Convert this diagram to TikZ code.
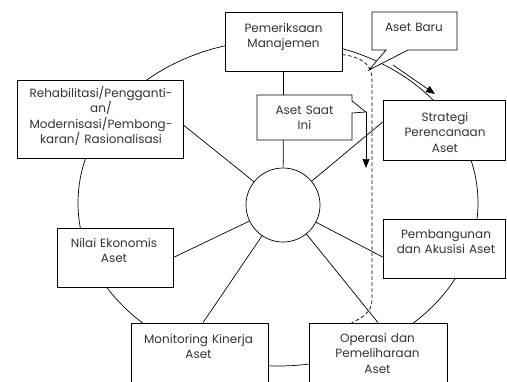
\documentclass[tikz,border=0pt]{standalone}
\usepackage{fontspec}
\setmainfont{Poppins}
\usetikzlibrary{arrows.meta}
\begin{document}
\begin{tikzpicture}[x=1pt,y=-1pt, line width=0.7pt,
  box/.style={draw, fill=white, rectangle, inner sep=0pt},
  txt/.style={font=\fontsize{12}{15.5}\selectfont, text=black!80, align=center, inner sep=0pt, anchor=base, text width=170pt},
  tipar/.style={-{Triangle[length=9pt,width=7pt]}},
  dashline/.style={dash pattern=on 3.5pt off 2.5pt}]
\useasboundingbox (0,0) rectangle (507,381);
\clip (0,0) rectangle (507,381);
% big cycle
\draw (278,203) ellipse [x radius=200, y radius=163];
% boxes
\node[box, minimum width=117pt, minimum height=59pt] (pem) at (283.5,41.5) {};
\node[box, minimum width=122.5pt, minimum height=60pt] (strat) at (444.25,130) {};
\node[box, minimum width=122.5pt, minimum height=59pt] (pemb) at (444.25,248.5) {};
\node[box, minimum width=138pt, minimum height=67pt] (op) at (378,356.5) {};
\node[box, minimum width=137pt, minimum height=67pt] (mon) at (199.5,356.5) {};
\node[box, minimum width=116pt, minimum height=59pt] (nilai) at (115,257.5) {};
\node[box, minimum width=166pt, minimum height=78pt] (rehab) at (100,119) {};
% hub
\node[draw, fill=white, circle, minimum size=74pt, inner sep=0pt] (c) at (283,205) {};
% spokes
\draw (pem.south) -- (c);
\draw (c) -- ([yshift=8pt]strat.west);
\draw (c) -- ([yshift=-8.5pt]pemb.west);
\draw (c) -- (op.north);
\draw (c) -- ([xshift=3.5pt]mon.north);
\draw (c) -- (nilai.east);
\draw (c) -- ([yshift=-6pt]rehab.east);
% callout Aset Baru
\coordinate (baruTip) at (369,70);
\draw[fill=white] (372,12) -- (457,12) -- (457,50) -- (408,50) -- (baruTip) -- (386,50) -- (372,50) -- cycle;
% callout Aset Saat Ini
\coordinate (saatTip) at (366,112);
\coordinate (saatEnd) at (366,168);
\draw[fill=white] (257,95) -- (352,95) -- (352,101) -- (saatTip) -- (352,113) -- (352,140) -- (257,140) -- cycle;
\draw[tipar] (saatTip) -- (saatEnd);
% arrow towards strategy
\coordinate (nA) at (393,65);
\coordinate (nB) at (435,94);
\draw[tipar] (nA) -- (nB);
% dashed boundary
\draw[dashline] ([yshift=-13pt]pem.east) .. controls (360,57) and (372,63) .. (372,80) -- (372,300) .. controls (372,312) and (362,318) .. ([xshift=43pt]op.north west);
% texts
\node[txt] (tpem) at (283.5,32) {Pemeriksaan\\Manajemen};
\node[txt] (tbaru) at (414,31) {Aset Baru};
\node[txt] (tsaat) at (304.5,114) {Aset Saat\\Ini};
\node[txt] (tstrat) at (445,121) {Strategi\\Perencanaan\\Aset};
\node[txt] (tpemb) at (446,238) {Pembangunan\\dan Akusisi Aset};
\node[txt] (top) at (377.5,342) {Operasi dan\\Pemeliharaan\\Aset};
\node[txt] (tmon) at (198.5,343) {Monitoring Kinerja\\Aset};
\node[txt] (tnilai) at (114,247) {Nilai Ekonomis\\Aset};
\node[txt] (trehab) at (101,97) {Rehabilitasi/Pengganti-\\an/\\Modernisasi/Pembong-\\karan/ Rasionalisasi};
\end{tikzpicture}
\end{document}
